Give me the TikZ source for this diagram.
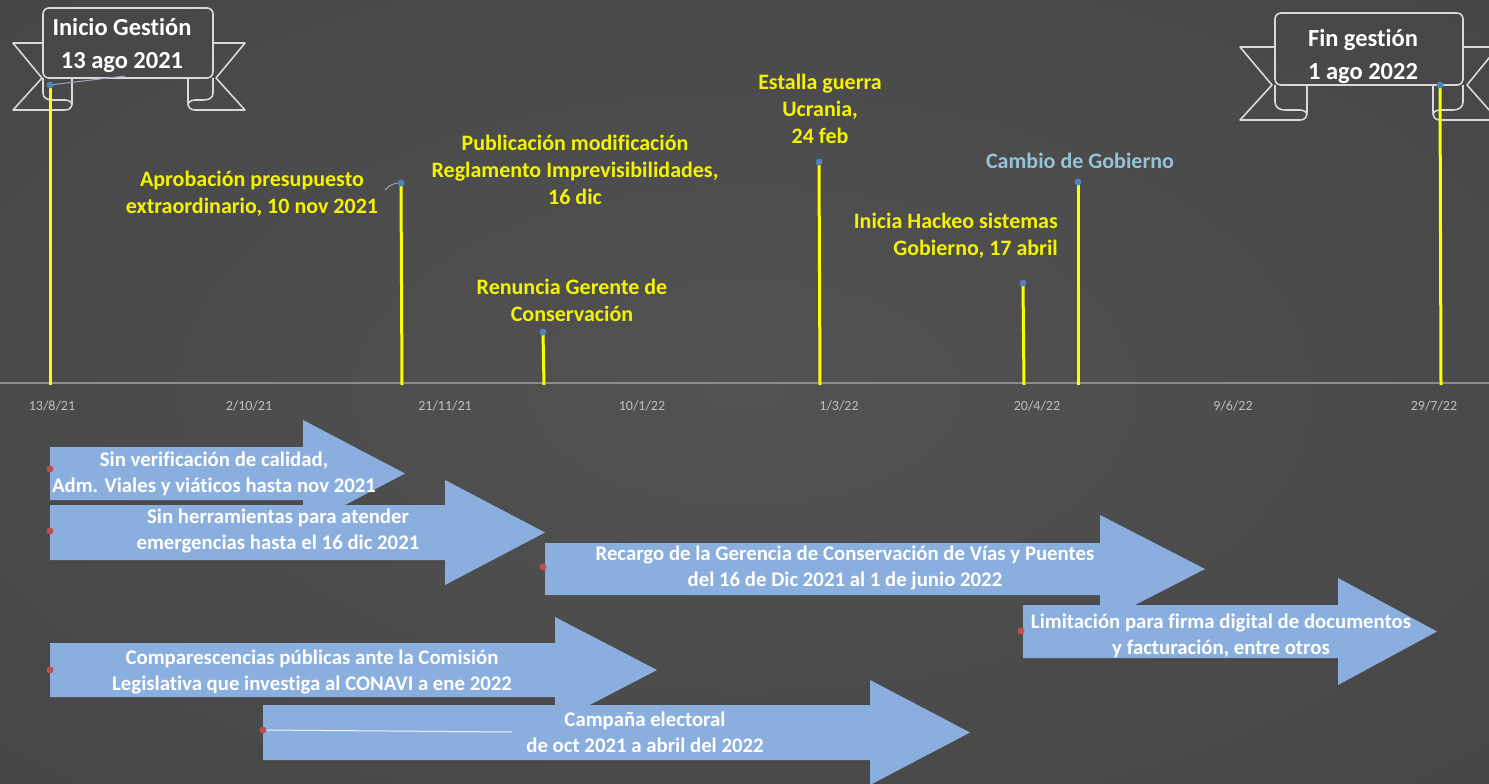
\documentclass[tikz,border=0pt]{standalone}
\usepackage{fontspec}
\setmainfont{Carlito}[Ligatures=NoCommon]
\definecolor{bgin}{HTML}{525252}
\definecolor{bgmid}{HTML}{464646}
\definecolor{bgout}{HTML}{2E2E2E}
\definecolor{stemyellow}{HTML}{FFFF00}
\definecolor{labyellow}{HTML}{F4F400}
\definecolor{dotblue}{HTML}{4F81BD}
\definecolor{dotred}{HTML}{C0504D}
\definecolor{arrowblue}{HTML}{8AAFDF}
\definecolor{ribbongray}{HTML}{D9D9D9}
\definecolor{axisgray}{HTML}{BFBFBF}
\definecolor{axisline}{HTML}{8C8C8C}
\definecolor{cambio}{HTML}{93C4D8}
\definecolor{leadgray}{HTML}{9AA6B8}
\pgfdeclareradialshading{bgshade}{\pgfpoint{0bp}{0bp}}{color(0bp)=(bgin); color(35bp)=(bgmid); color(72bp)=(bgout)}
\newcommand\myarrow[7]{\fill[arrowblue] (#1,#2) -- (#4,#2) -- (#4,#5) -- (#7,{(#2+#3)/2}) -- (#4,#6) -- (#4,#3) -- (#1,#3) -- cycle;}
\begin{document}
\begin{tikzpicture}[x=1pt,y=-1pt,
  stemline/.style={draw=stemyellow, line width=3pt},
  bluedot/.style={circle, fill=dotblue, inner sep=0pt, minimum size=7pt},
  reddot/.style={circle, fill=dotred, inner sep=0pt, minimum size=7pt},
  evlabel/.style={text=labyellow, font=\fontsize{22}{27}\selectfont\bfseries, align=center, inner sep=0pt},
  arrowtext/.style={text=white, font=\fontsize{20.8}{26}\selectfont\bfseries, align=center, inner sep=0pt},
  axislab/.style={text=axisgray, font=\fontsize{14}{16}\selectfont, inner sep=0pt},
  ribbonline/.style={draw=ribbongray, line width=1.6pt, line join=round},
  bannertext/.style={text=white, font=\fontsize{24.5}{33}\selectfont\bfseries, align=center, inner sep=0pt},
  leader/.style={draw=leadgray, line width=1pt}]
\useasboundingbox (0,0) rectangle (1489,784);
\shade[shading=bgshade] (0,0) rectangle (1489,784);

% ---------- banners ----------
% left banner
\draw[ribbonline] (43,43) -- (13,43) -- (42,78) -- (13,110) -- (65,110) .. controls (70,110) and (72,107) .. (72,103) -- (72,78);
\draw[ribbonline] (43,78) -- (43,93) .. controls (43,98) and (47,100) .. (53,100) -- (65,100) .. controls (70,100) and (72,103) .. (72,105);
\draw[ribbonline] (213,43) -- (245,43) -- (216,78) -- (245,110) -- (195,110) .. controls (190,110) and (188,107) .. (188,103) -- (188,78);
\draw[ribbonline] (213,78) -- (213,93) .. controls (213,98) and (209,100) .. (203,100) -- (195,100) .. controls (190,100) and (188,103) .. (188,105);
\draw[ribbonline, rounded corners=6pt] (43,8) rectangle (213,78);
\node[bannertext] (bannerL) at (122,45) {Inicio Gestión\\13 ago 2021};
% right banner
\draw[ribbonline] (1275,47) -- (1240,47) -- (1272,85) -- (1240,120) -- (1300,120) .. controls (1305,120) and (1307,117) .. (1307,112) -- (1307,85);
\draw[ribbonline] (1275,85) -- (1275,102) .. controls (1275,107) and (1279,110) .. (1285,110) -- (1300,110) .. controls (1305,110) and (1307,113) .. (1307,115);
\draw[ribbonline] (1463,47) -- (1498,47) -- (1467,85) -- (1498,120) -- (1440,120) .. controls (1435,120) and (1433,117) .. (1433,112) -- (1433,85);
\draw[ribbonline] (1463,85) -- (1463,102) .. controls (1463,107) and (1459,110) .. (1453,110) -- (1440,110) .. controls (1435,110) and (1433,113) .. (1433,115);
\draw[ribbonline, rounded corners=6pt] (1275,13) rectangle (1463,85);
\node[bannertext] (bannerR) at (1363,56) {Fin gestión\\1 ago 2022};

% ---------- axis ----------
\coordinate (axL) at (0,383);
\coordinate (axR) at (1489,383);
\draw[draw=axisline, line width=1.5pt] (axL) -- (axR);
\node[axislab] (t1) at (52,406) {13/8/21};
\node[axislab] (t2) at (249,406) {2/10/21};
\node[axislab] (t3) at (445,406) {21/11/21};
\node[axislab] (t4) at (642,406) {10/1/22};
\node[axislab] (t5) at (839,406) {1/3/22};
\node[axislab] (t6) at (1037,406) {20/4/22};
\node[axislab] (t7) at (1233,406) {9/6/22};
\node[axislab] (t8) at (1434,406) {29/7/22};

% ---------- stems ----------
\coordinate (b1) at (50,385);   \coordinate (p1) at (50,85);
\coordinate (b2) at (402,385);  \coordinate (p2) at (401,183);
\coordinate (b3) at (544,385);  \coordinate (p3) at (543,332);
\coordinate (b4) at (820,385);  \coordinate (p4) at (819,162);
\coordinate (b5) at (1024,385); \coordinate (p5) at (1023,283);
\coordinate (b6) at (1078,385); \coordinate (p6) at (1078,182);
\coordinate (b7) at (1441,385); \coordinate (p7) at (1440,85);
\foreach \i in {1,...,7} {\draw[stemline] (b\i) -- (p\i);}
\coordinate (l1) at (125,76);
\draw[leader] (p1) -- (l1);
\coordinate (l2) at (385,190);
\draw[leader] (l2) to[bend left=25] (p2);
\foreach \i in {1,...,7} {\node[bluedot] (d\i) at (p\i) {};}

% ---------- event labels ----------
\node[evlabel] (e2) at (252,194) {Aprobación presupuesto\\extraordinario, 10 nov 2021};
\node[evlabel] (epub) at (575,170) {Publicación modificación\\Reglamento Imprevisibilidades,\\16 dic};
\node[evlabel] (e3) at (572,300) {Renuncia Gerente de\\Conservación};
\node[evlabel] (e4) at (820,109) {Estalla guerra\\Ucrania,\\24 feb};
\node[evlabel, align=right, anchor=east] (e5) at (1058,236) {Inicia Hackeo sistemas\\Gobierno, 17 abril};
\node[evlabel, text=cambio] (e6) at (1080,161) {Cambio de Gobierno};

% ---------- block arrows ----------
\myarrow{50}{447}{500}{303}{420}{527}{405}
\node[arrowtext] (a1) at (214,474) {Sin verificación de calidad,\\Adm. Viales y viáticos hasta nov 2021};
\myarrow{50}{505}{560}{445}{480}{585}{545}
\node[arrowtext] (a2) at (278,531) {Sin herramientas para atender\\emergencias hasta el 16 dic 2021};
\myarrow{545}{543}{595}{1100}{515}{623}{1205}
\node[arrowtext] (a3) at (845,568) {Recargo de la Gerencia de Conservación de Vías y Puentes\\del 16 de Dic 2021 al 1 de junio 2022};
\myarrow{1023}{605}{658}{1338}{578}{685}{1437}
\node[arrowtext] (a4) at (1221,636) {Limitación para firma digital de documentos\\y facturación, entre otros};
\myarrow{50}{643}{697}{555}{617}{723}{657}
\node[arrowtext] (a5) at (312,672) {Comparescencias públicas ante la Comisión\\Legislativa que investiga al CONAVI a ene 2022};
\myarrow{263}{705}{760}{870}{680}{785}{970}
\node[arrowtext] (a6) at (645,732) {Campaña electoral\\de oct 2021 a abril del 2022};
\coordinate (c6) at (512,732);
\node[reddot] (r1) at (50,469) {};
\node[reddot] (r2) at (50,531) {};
\node[reddot] (r3) at (543,567) {};
\node[reddot] (r4) at (1021,631) {};
\node[reddot] (r5) at (50,670) {};
\node[reddot] (r6) at (263,730) {};
\draw[draw=white!85!arrowblue, line width=1pt] (r6) -- (c6);
\end{tikzpicture}
\end{document}
